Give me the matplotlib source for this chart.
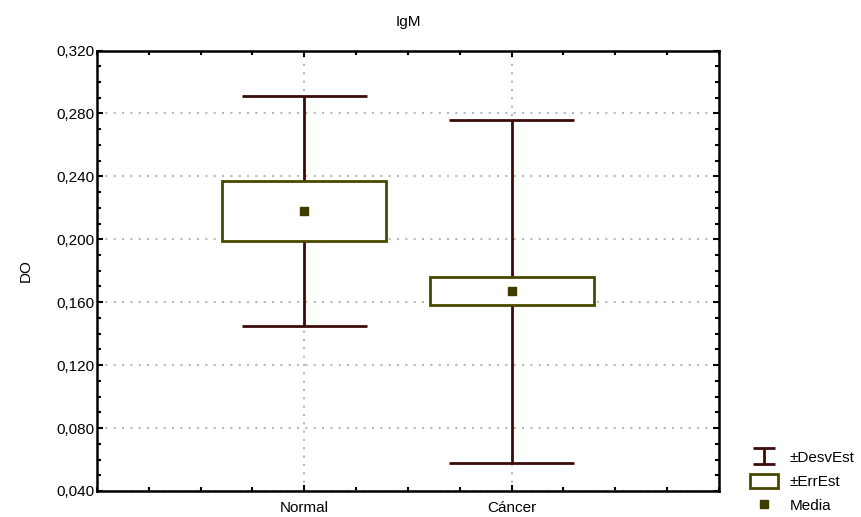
import matplotlib
matplotlib.use("Agg")
import matplotlib.pyplot as plt
from matplotlib.lines import Line2D
from matplotlib.patches import Rectangle
from matplotlib.path import Path
from matplotlib.ticker import MultipleLocator, FuncFormatter

plt.rcParams['font.family'] = ['Liberation Sans', 'DejaVu Sans']

categories = ["Normal", "Cáncer"]
means = [0.218, 0.167]
sd = [0.073, 0.109]
se = [0.019, 0.009]

whisker_c = "#3d0a0a"
box_c = "#4a4800"
mean_c = "#3d3d00"
FS = 11

fig = plt.figure(figsize=(8.62, 5.17), dpi=100)
ax = fig.add_axes([0.1125, 0.0503, 0.7216, 0.852])

xs = [1, 2]
# whiskers (mean ± SD)
for x, m, s in zip(xs, means, sd):
    ax.vlines(x, m - s, m + s, color=whisker_c, lw=2, zorder=2)
    ax.hlines([m - s, m + s], x - 0.3, x + 0.3, color=whisker_c, lw=2, zorder=2)
# boxes (mean ± SE)
ax.bar(xs, [2 * e for e in se], bottom=[m - e for m, e in zip(means, se)],
       width=0.79, facecolor="white", edgecolor=box_c, linewidth=2, zorder=3)
ax.scatter(xs, means, marker="s", s=36, color=mean_c, zorder=4)

ax.set_xlim(0, 3)
ax.set_ylim(0.04, 0.32)
ax.set_xticks(xs)
ax.set_xticklabels(categories)
ax.xaxis.set_minor_locator(MultipleLocator(0.25))
ax.yaxis.set_major_locator(MultipleLocator(0.04))
ax.yaxis.set_minor_locator(MultipleLocator(0.01))
ax.yaxis.set_major_formatter(FuncFormatter(lambda v, p: f"{v:.3f}".replace(".", ",")))
ax.tick_params(which="both", direction="in", top=True, right=True, labelsize=FS, width=1.5)
ax.tick_params(which="major", length=4)
ax.tick_params(which="minor", length=3)
ax.tick_params(axis="y", which="major", pad=2)
ax.tick_params(axis="x", which="major", pad=7)
ax.grid(True, which="major", linestyle=(0, (1, 3)), color="#b8b8b8", lw=1.5, zorder=0)
ax.set_axisbelow(True)
for sp in ax.spines.values():
    sp.set_linewidth(1.8)

ax.set_title("IgM", fontsize=FS, pad=18)
ax.set_ylabel("DO", fontsize=FS, labelpad=17)

ibar = Path([(-0.5, 0.35), (0.5, 0.35), (0, 0.35), (0, -0.35), (-0.5, -0.35), (0.5, -0.35)],
            [Path.MOVETO, Path.LINETO, Path.MOVETO, Path.LINETO, Path.MOVETO, Path.LINETO])
handles = [
    Line2D([], [], linestyle="none", marker=ibar, markersize=16, markeredgewidth=2,
           color=whisker_c, markerfacecolor="none"),
    Rectangle((0, 0), 1, 1, facecolor="white", edgecolor=box_c, linewidth=2),
    Line2D([], [], linestyle="none", marker="s", markersize=6, color=mean_c),
]
fig.legend(handles, ["±DesvEst", "±ErrEst", "Media"], loc="lower left",
           bbox_to_anchor=(0.863, -0.004), frameon=False, fontsize=FS,
           handlelength=1.8, handleheight=1.0, labelspacing=0.57, handletextpad=0.8,
           borderaxespad=0)

fig.savefig("out.png", dpi=100)
